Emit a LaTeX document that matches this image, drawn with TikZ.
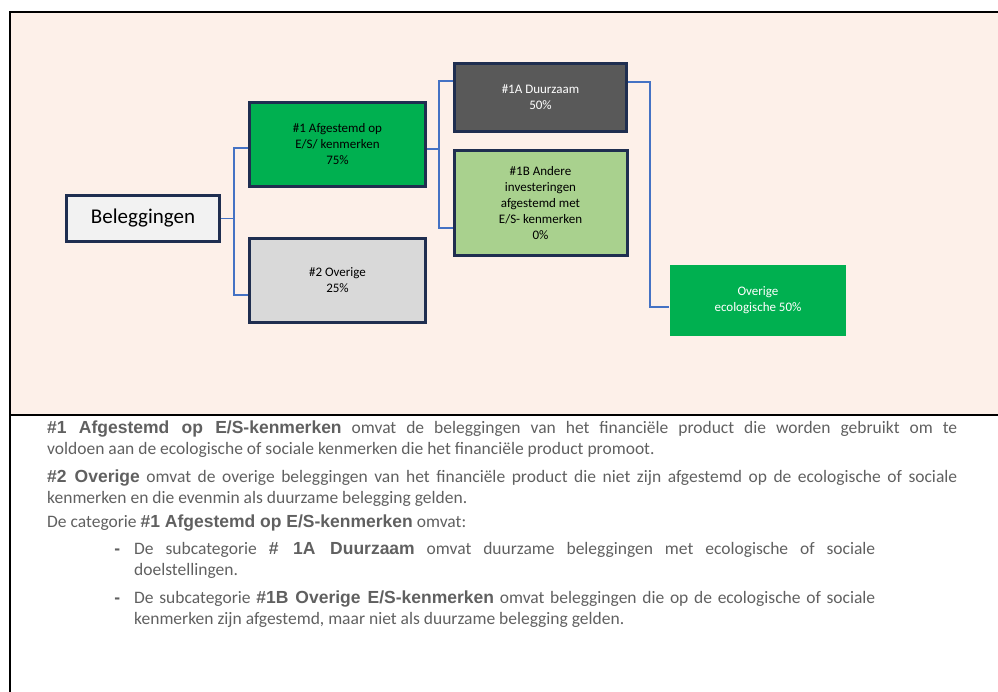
\documentclass[tikz,border=0pt]{standalone}
\usepackage{fontspec}
\setmainfont{Carlito}
\newfontfamily\arialfont{Liberation Sans}
\usetikzlibrary{positioning,calc}

\definecolor{panelbg}{RGB}{253,240,233}
\definecolor{boxline}{RGB}{31,46,80}
\definecolor{linkblue}{RGB}{68,114,196}
\definecolor{esgreen}{RGB}{0,176,80}
\definecolor{lightgreen}{RGB}{169,209,142}
\definecolor{darkgrey}{RGB}{89,89,89}
\definecolor{midgrey}{RGB}{217,217,217}
\definecolor{lightgrey}{RGB}{242,242,242}
\definecolor{bodygrey}{RGB}{96,96,96}
\newcommand{\kop}[1]{{\arialfont\bfseries #1}}
\setlength{\parindent}{0pt}
\tolerance=10000
\hyphenpenalty=10000
\exhyphenpenalty=10000

\begin{document}
\begin{tikzpicture}[x=1pt, y=-1pt,
    box/.style={rectangle, draw=boxline, line width=3pt, align=center,
      inner sep=2pt, font=\fontsize{13}{16}\selectfont},
    link/.style={draw=linkblue, line width=1.2pt},
    body/.style={anchor=north west, inner sep=0pt, text=bodygrey, align=justify,
      font=\fontsize{17.5}{21}\selectfont}]

  \useasboundingbox (0,0) rectangle (998,692);
  \fill[panelbg] (10,12) rectangle (998,415);
  \draw[line width=2.5pt] (998,12) -- (10,12) -- (10,692);
  \draw[line width=2.5pt] (10,415) -- (998,415);

  % boom
  \node[box, fill=lightgrey, minimum width=153pt, minimum height=46pt,
    font=\fontsize{21}{25}\selectfont] (bel) at (143,218.5) {Beleggingen};
  \node[box, fill=esgreen, minimum width=176pt, minimum height=84pt] (afg) at (337.5,144.5)
    {\#1 Afgestemd op\\E/S/ kenmerken\\75\%};
  \node[box, fill=midgrey, minimum width=176pt, minimum height=84pt, below=49pt of afg] (ovr)
    {\#2 Overige\\25\%};
  \node[box, fill=darkgrey, text=white, minimum width=172pt, minimum height=68pt] (duz) at (540.5,97.5)
    {\#1A Duurzaam\\50\%};
  \node[box, fill=lightgreen, minimum width=173pt, minimum height=105pt, below=16pt of duz] (and)
    {\#1B Andere\\investeringen\\afgestemd met\\E/S- kenmerken\\0\%};
  \node[box, draw=none, fill=esgreen, text=white, minimum width=176pt, minimum height=71pt] (eco) at (758,300.5)
    {Overige\\ecologische 50\%};

  \draw[link] (bel.east) -- +(13,0) coordinate (bj);
  \draw[link] ([yshift=-3.5pt]afg.west) -| (bj) |- ([yshift=-14.5pt]ovr.west);
  \draw[link] ([yshift=-4.5pt]afg.east) -- +(12,0) coordinate (aj);
  \draw[link] ([yshift=16.5pt]duz.west) -| (aj) |- ([yshift=-25pt]and.west);
  \draw[link] ([yshift=15.5pt]duz.east) -- +(22,0) |- ([yshift=-6.5pt]eco.west);

  % toelichting
  \node[body, text width=910pt] (tekst) at (47,421)
    {\kop{\#1 Afgestemd op E/S-kenmerken} omvat de beleggingen van het financiële product die worden gebruikt om te\linebreak
     voldoen aan de ecologische of sociale kenmerken die het financiële product promoot.\\[7pt]
     \kop{\#2 Overige} omvat de overige beleggingen van het financiële product die niet zijn afgestemd op de ecologische of sociale\linebreak
     kenmerken en die evenmin als duurzame belegging gelden.\\[3pt]
     De categorie \kop{\#1 Afgestemd op E/S-kenmerken} omvat:};
  \node[body, text width=741pt] (sub1) at (134,542)
    {\llap{\kop{-}\hspace{14pt}}De subcategorie \kop{\# 1A Duurzaam} omvat duurzame beleggingen met ecologische of sociale\linebreak
     doelstellingen.};
  \node[body, text width=741pt, below=12pt of sub1.south west, anchor=north west] (sub2)
    {\llap{\kop{-}\hspace{14pt}}De subcategorie \kop{\#1B Overige E/S-kenmerken} omvat beleggingen die op de ecologische of sociale\linebreak
     kenmerken zijn afgestemd, maar niet als duurzame belegging gelden.};

\end{tikzpicture}
\end{document}
